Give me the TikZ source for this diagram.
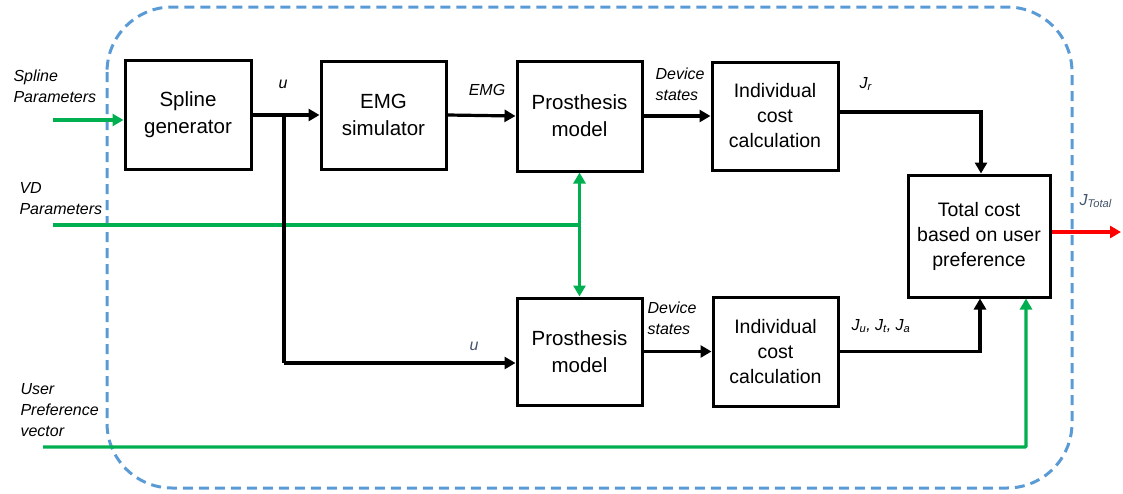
\documentclass[tikz,border=0pt]{standalone}
\usepackage{fontspec}
\setmainfont{Liberation Sans}
\usetikzlibrary{arrows.meta}
\definecolor{sysblue}{RGB}{91,155,213}
\definecolor{sigbgreen}{RGB}{0,176,80}
\definecolor{lblblue}{RGB}{68,84,106}
\newcommand{\Jsub}[1]{\textit{J}\textsubscript{\textit{#1}}}
\tikzset{
  blk/.style={draw,line width=3pt,align=center,font=\fontsize{20.5}{27}\selectfont},
  lbl/.style={font=\itshape\fontsize{16}{21}\selectfont,align=left},
  sig/.style={line width=3.2pt,-{Triangle[length=11pt,width=12pt]}},
  green sig/.style={sig,sigbgreen}
}
\begin{document}
\begin{tikzpicture}[x=1pt,y=-1pt]
\useasboundingbox (0,0) rectangle (1123,493);
% system boundary
\draw[sysblue,line width=3pt,dash pattern=on 10pt off 6pt,rounded corners=65pt] (107,7) rectangle (1072,488);
% blocks
\node[blk,minimum width=126pt,minimum height=109pt] (sg) at (188,115) {Spline\\generator};
\node[blk,minimum width=125pt,minimum height=108pt] (emg) at (383.5,115) {EMG\\simulator};
\node[blk,minimum width=125pt,minimum height=110pt] (pm1) at (579.5,116) {Prosthesis\\model};
\node[blk,minimum width=126pt,minimum height=108pt,font=\fontsize{19.5}{25}\selectfont] (icc1) at (775,116) {Individual\\cost\\calculation};
\node[blk,minimum width=125pt,minimum height=107pt] (pm2) at (579.5,351.5) {Prosthesis\\model};
\node[blk,minimum width=125pt,minimum height=109pt,font=\fontsize{19.5}{25}\selectfont] (icc2) at (775.5,351.5) {Individual\\cost\\calculation};
\node[blk,minimum width=142pt,minimum height=122pt,font=\fontsize{19.5}{25}\selectfont] (tot) at (979,236) {Total cost\\based on user\\preference};
% labels
\node[lbl,anchor=west] (lsp) at (10,86.5) {Spline\\Parameters};
\node[lbl,anchor=west] (lvd) at (16,198.5) {VD\\Parameters};
\node[lbl,anchor=west] (lup) at (17,410.5) {User\\Preference\\vector};
\node[lbl] (lu1) at (283,84) {u};
\node[lbl] (lemg) at (487,90) {EMG};
\node[lbl] (lds1) at (680,84) {Device\\states};
\node[lbl] (lds2) at (672,318.5) {Device\\states};
\node[lbl,text=lblblue] (lu2) at (474,346) {u};
\node[lbl,anchor=west] (ljr) at (856,84) {\Jsub{r}};
\node[lbl,anchor=west] (ljs) at (848,326) {\Jsub{u}, \Jsub{t}, \Jsub{a}};
\node[lbl,anchor=west,text=lblblue] (ljt) at (1076,201) {\Jsub{Total}};
% inputs
\coordinate (sp) at (53,120);
\coordinate (vd) at (53,225);
\coordinate (up) at (43,447);
\coordinate (uj) at (284,115);
\coordinate (ub) at (284,363);
\coordinate (out) at (1121,232);
\draw[green sig] (sp) -- (sp -| sg.west);
\draw[sigbgreen,line width=3.2pt] (vd) -- (vd -| pm1.south);
\draw[green sig,{Triangle[length=11pt,width=12pt]}-{Triangle[length=11pt,width=12pt]}] (pm1.south) -- (pm2.north);
\draw[green sig,rounded corners=1pt] (up) -| ([xshift=47pt]tot.south);
% signal flow
\draw[sig] (sg.east) -- (emg.west);
\draw[line width=3.2pt] (uj) -- (ub);
\draw[sig] (ub) -- (ub -| pm2.west);
\draw[sig] (emg.east) -- (pm1.west);
\draw[sig] (pm1.east) -- (icc1.west);
\draw[sig] ([yshift=4pt]icc1.east) -| ([xshift=2pt]tot.north);
\draw[sig] (pm2.east) -- (icc2.west);
\draw[sig] (icc2.east) -| ([xshift=1pt]tot.south);
\draw[sig,red] (tot.east |- out) -- (out);
\end{tikzpicture}
\end{document}
